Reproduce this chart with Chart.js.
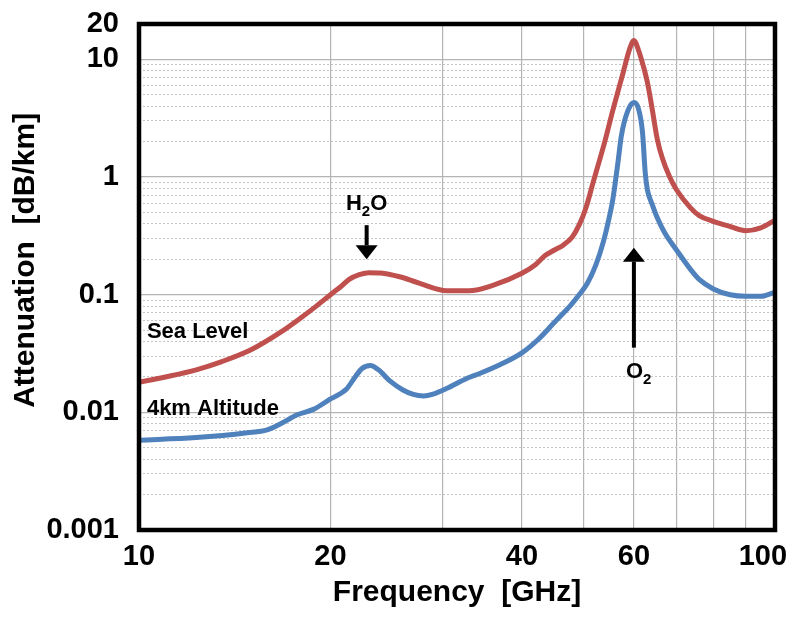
<!DOCTYPE html>
<html>
<head>
<meta charset="utf-8">
<script src="https://cdn.jsdelivr.net/npm/chart.js@4/dist/chart.umd.min.js"></script>
<style>
  html, body { margin: 0; padding: 0; background: #fff; }
  #wrap { width: 796px; height: 623px; }
</style>
</head>
<body>
<div id="wrap"><canvas id="attChart" width="796" height="623"></canvas></div>
<script>
// Datos (frecuencia en GHz, atenuación en dB/km)
const seaFreq = [10, 11, 12.3, 13.5, 15, 16.7, 18, 19, 20, 20.8, 21.4, 22.2, 23, 24, 25.7, 27.5, 30.5, 33, 36, 40,
  42, 43.5, 45, 46.5, 48, 49.3, 50.5, 51.7, 53, 54, 55.6, 57.7, 59, 60, 61, 62, 63, 64, 65.3, 66.5, 68.3, 70, 73.6, 76, 80, 85, 90, 95, 100];
const seaLevel = [0.018, 0.020, 0.023, 0.027, 0.034, 0.048, 0.064, 0.08, 0.1, 0.118, 0.135, 0.148, 0.154, 0.153, 0.142, 0.126, 0.108, 0.108, 0.12, 0.152,
  0.18, 0.215, 0.24, 0.265, 0.31, 0.4, 0.56, 0.88, 1.4, 2.0, 3.7, 7.7, 12, 14.5, 12, 9, 6.4, 4.0, 2.1, 1.45, 1.0, 0.78, 0.55, 0.47, 0.42, 0.38, 0.35, 0.37, 0.43];

const altFreq = [10, 12.3, 14.8, 15.9, 16.7, 17.7, 18.8, 20, 21.2, 21.8, 22.4, 23.1, 23.8, 24.8, 26, 27, 28, 29, 30.5, 32.8, 34.4, 37, 40,
  42.5, 44.7, 46, 47.6, 49, 50.7, 52.3, 53.7, 54.7, 55.6, 56.6, 57.3, 58, 59, 60, 61, 61.9, 62.5, 63, 64, 65.3, 67, 70, 73.6, 76, 80, 85, 90, 95, 100];
const alt4km = [0.0058, 0.0061, 0.0067, 0.0071, 0.008, 0.0095, 0.0106, 0.013, 0.0158, 0.0195, 0.0235, 0.025, 0.023, 0.0185, 0.0155, 0.0142, 0.0138, 0.0143, 0.016, 0.0195, 0.0215, 0.0255, 0.032,
  0.042, 0.056, 0.066, 0.08, 0.097, 0.125, 0.18, 0.28, 0.42, 0.65, 1.3, 2.2, 3.0, 3.9, 4.3, 3.8, 2.4, 1.1, 0.78, 0.6, 0.45, 0.34, 0.24, 0.165, 0.135, 0.112, 0.1, 0.097, 0.097, 0.105];

// Etiquetas de los ejes que se muestran
const xTickLabels = ['10', '20', '40', '60', '100'];
const yTickLabels = ['0.001', '0.01', '0.1', '1', '10', '20'];

const FONT = '"Liberation Sans", Arial, sans-serif';

function toPoints(xs, ys) {
  return xs.map((x, i) => ({ x: x, y: ys[i] }));
}

// mantisa entera (1..9) para quedarse sólo con las líneas 1,2,...,9 x 10^n
function mantisaEntera(v) {
  const m = v / Math.pow(10, Math.floor(Math.log10(v) + 1e-9));
  return Math.abs(m - Math.round(m)) < 1e-6;
}

function esDecada(v) {
  const l = Math.log10(v);
  return Math.abs(l - Math.round(l)) < 1e-6;
}

// Dibuja el marco negro, las flechas y los textos del gráfico
const annotations = {
  id: 'annotations',
  afterDatasetsDraw(chart) {
    const { ctx, chartArea: a, scales } = chart;
    const xs = scales.x, ys = scales.y;
    ctx.save();

    // marco
    ctx.strokeStyle = '#000';
    ctx.lineWidth = 4.5;
    ctx.strokeRect(a.left, a.top, a.right - a.left, a.bottom - a.top);

    ctx.fillStyle = '#000';
    ctx.textBaseline = 'alphabetic';

    function flecha(x, yFrom, yTip) {
      const dir = yTip > yFrom ? 1 : -1;
      const headLen = 14, halfW = 11;
      ctx.lineWidth = 4;
      ctx.beginPath();
      ctx.moveTo(x, yFrom);
      ctx.lineTo(x, yTip - dir * headLen);
      ctx.stroke();
      ctx.beginPath();
      ctx.moveTo(x, yTip);
      ctx.lineTo(x - halfW, yTip - dir * headLen);
      ctx.lineTo(x + halfW, yTip - dir * headLen);
      ctx.closePath();
      ctx.fill();
    }

    function formula(parts, x, y, center) {
      // parts: [texto, subíndice, texto]
      const big = 'bold 22px ' + FONT, small = 'bold 15px ' + FONT;
      ctx.font = big; const w0 = ctx.measureText(parts[0]).width;
      ctx.font = small; const w1 = ctx.measureText(parts[1]).width;
      ctx.font = big; const w2 = parts[2] ? ctx.measureText(parts[2]).width : 0;
      const left = center ? x - (w0 + w1 + w2) / 2 : x;
      ctx.textAlign = 'left';
      ctx.font = big; ctx.fillText(parts[0], left, y);
      ctx.font = small; ctx.fillText(parts[1], left + w0, y + 6);
      if (parts[2]) { ctx.font = big; ctx.fillText(parts[2], left + w0 + w1, y); }
    }

    // H2O
    const xH = xs.getPixelForValue(22.8);
    formula(['H', '2', 'O'], xH, ys.getPixelForValue(0.52), true);
    flecha(xH, ys.getPixelForValue(0.39), ys.getPixelForValue(0.2));

    // O2
    const xO = xs.getPixelForValue(60);
    flecha(xO, ys.getPixelForValue(0.0355), ys.getPixelForValue(0.251));
    formula(['O', '2', ''], xO - 8, ys.getPixelForValue(0.0197), false);

    // nombres de las curvas
    ctx.font = 'bold 22px ' + FONT;
    ctx.textAlign = 'left';
    ctx.fillText('Sea Level', xs.getPixelForValue(10.29), ys.getPixelForValue(0.043));
    ctx.fillText('4km Altitude', xs.getPixelForValue(10.29), ys.getPixelForValue(0.0095));

    ctx.restore();
  }
};

new Chart(document.getElementById('attChart'), {
  type: 'line',
  data: {
    datasets: [
      {
        label: 'Sea Level',
        data: toPoints(seaFreq, seaLevel),
        borderColor: '#C0504D',
        borderWidth: 5,
        pointRadius: 0,
        cubicInterpolationMode: 'monotone',
        fill: false
      },
      {
        label: '4km Altitude',
        data: toPoints(altFreq, alt4km),
        borderColor: '#4F81BD',
        borderWidth: 5,
        pointRadius: 0,
        cubicInterpolationMode: 'monotone',
        fill: false
      }
    ]
  },
  options: {
    responsive: false,
    animation: false,
    layout: { padding: { top: 24, right: 21, bottom: 0, left: 0 } },
    plugins: {
      legend: { display: false },
      tooltip: { enabled: false }
    },
    scales: {
      x: {
        type: 'logarithmic',
        min: 10,
        max: 100,
        afterBuildTicks: (scale) => {
          scale.ticks = scale.ticks.filter(t => Math.abs(t.value / 10 - Math.round(t.value / 10)) < 1e-6);
        },
        afterFit: (scale) => {
          scale.height = 93;
          scale.paddingLeft = 0;
          scale.paddingRight = 0;
        },
        grid: { color: '#b4b4b4', lineWidth: 1.2, drawTicks: false },
        border: { display: false },
        ticks: {
          autoSkip: false,
          maxRotation: 0,
          padding: 10,
          color: '#000',
          font: { family: FONT, size: 29, weight: 'bold' },
          callback: (v) => {
            const s = String(Math.round(v));
            if (!xTickLabels.includes(s)) return '';
            // la última etiqueta queda desplazada a la izquierda para caber
            return s === '100' ? s + '   ' : s;
          }
        },
        title: {
          display: true,
          text: 'Frequency  [GHz]',
          color: '#000',
          font: { family: FONT, size: 30, weight: 'bold' },
          padding: { top: 0, bottom: 12 }
        }
      },
      y: {
        type: 'logarithmic',
        min: 0.001,
        max: 20,
        afterBuildTicks: (scale) => {
          scale.ticks = scale.ticks.filter(t => mantisaEntera(t.value));
        },
        afterFit: (scale) => {
          scale.width = 139;
          scale.paddingTop = 0;
          scale.paddingBottom = 0;
        },
        grid: {
          drawTicks: false,
          color: (c) => (c.tick && esDecada(c.tick.value)) ? '#b4b4b4' : '#c4c4c4',
          lineWidth: (c) => (c.tick && esDecada(c.tick.value)) ? 1.2 : 1
        },
        border: {
          display: false,
          dash: (c) => (c.tick && !esDecada(c.tick.value)) ? [2, 2] : []
        },
        ticks: {
          autoSkip: false,
          padding: 20,
          color: '#000',
          font: { family: FONT, size: 29, weight: 'bold' },
          callback: (v) => {
            const s = String(Number(Number(v).toPrecision(3)));
            return yTickLabels.includes(s) ? s : '';
          }
        },
        title: {
          display: true,
          text: '    Attenuation  [dB/km]',
          color: '#000',
          font: { family: FONT, size: 30, weight: 'bold' },
          padding: { top: 8, bottom: 0 }
        }
      }
    }
  },
  plugins: [annotations]
});
</script>
</body>
</html>
